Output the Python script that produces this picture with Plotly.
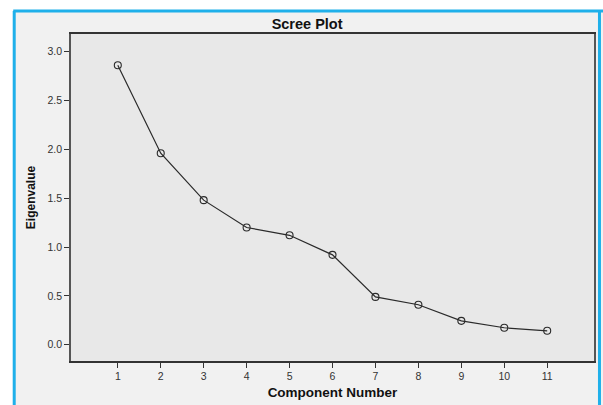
import plotly.graph_objects as go

components = [1, 2, 3, 4, 5, 6, 7, 8, 9, 10, 11]
eigenvalues = [2.86, 1.96, 1.48, 1.20, 1.12, 0.92, 0.49, 0.41, 0.245, 0.174, 0.143]
y_ticks = [0.0, 0.5, 1.0, 1.5, 2.0, 2.5, 3.0]
y_tick_labels = ["0.0", "0.5", "1.0", "1.5", "2.0", "2.5", "3.0"]

W, H = 603, 405
L, R, T, B = 71, 7, 34, 43
pw, ph = W - L - R, H - T - B

def px(x):
    return (x - L) / pw

def py(y):
    return 1 - (y - T) / ph

fig = go.Figure()
fig.add_trace(go.Scatter(
    x=components, y=eigenvalues, mode="lines+markers",
    line=dict(color="#2a2a2a", width=1.2),
    marker=dict(symbol="circle-open", size=7, color="#2a2a2a", line=dict(width=1.1)),
    showlegend=False,
))

fig.update_layout(
    width=W, height=H,
    margin=dict(l=L, r=R, t=T, b=B),
    paper_bgcolor="#f1f1f1",
    plot_bgcolor="#e8e8e8",
    font=dict(family="Liberation Sans, Arial, sans-serif", color="#222"),
    title=dict(text="<b>Scree Plot</b>", x=px(308), xanchor="center", xref="paper",
               y=1 - 24 / H, yanchor="middle", font=dict(size=14.5, color="#111")),
    xaxis=dict(
        range=[-0.09, 12.09], tickvals=components, ticks="outside", ticklen=5,
        tickcolor="#333", showgrid=False, zeroline=False,
        showline=True, linecolor="#333", linewidth=1.5, mirror=True,
        tickfont=dict(size=10.5, color="#333"),
        title=dict(text="<b>Component Number</b>", font=dict(size=13.5, color="#111"), standoff=6),
    ),
    yaxis=dict(
        range=[-0.166, 3.18], tickvals=y_ticks, ticktext=y_tick_labels, ticks="outside",
        ticklen=5, tickcolor="#333", showgrid=False, zeroline=False,
        showline=True, linecolor="#555", linewidth=1.5, mirror=True,
        tickfont=dict(size=10.5, color="#333"),
        title=dict(text="<b>Eigenvalue</b>", font=dict(size=12, color="#111"), standoff=9),
    ),
    shapes=[
        dict(type="rect", xref="paper", yref="paper", layer="below",
             x0=px(-20), x1=px(14), y0=py(-20), y1=py(440),
             fillcolor="#ffffff", line=dict(width=0)),
        dict(type="rect", xref="paper", yref="paper", layer="below",
             x0=px(-20), x1=px(640), y0=py(-20), y1=py(11),
             fillcolor="#ffffff", line=dict(width=0)),
        dict(type="line", xref="paper", yref="paper", x0=px(14), x1=px(14), y0=py(11), y1=py(440),
             line=dict(color="#1fb0ea", width=3)),
        dict(type="line", xref="paper", yref="paper", x0=px(13), x1=px(640), y0=py(11), y1=py(11),
             line=dict(color="#1fb0ea", width=3)),
        dict(type="line", xref="paper", yref="paper", x0=px(601.5), x1=px(601.5), y0=py(11), y1=py(440),
             line=dict(color="#1fb0ea", width=3)),
    ],
)

fig.write_html(
    "out.html",
    config={"displayModeBar": False},
    post_script="document.body.style.margin='0';document.body.style.overflow='hidden';",
)
